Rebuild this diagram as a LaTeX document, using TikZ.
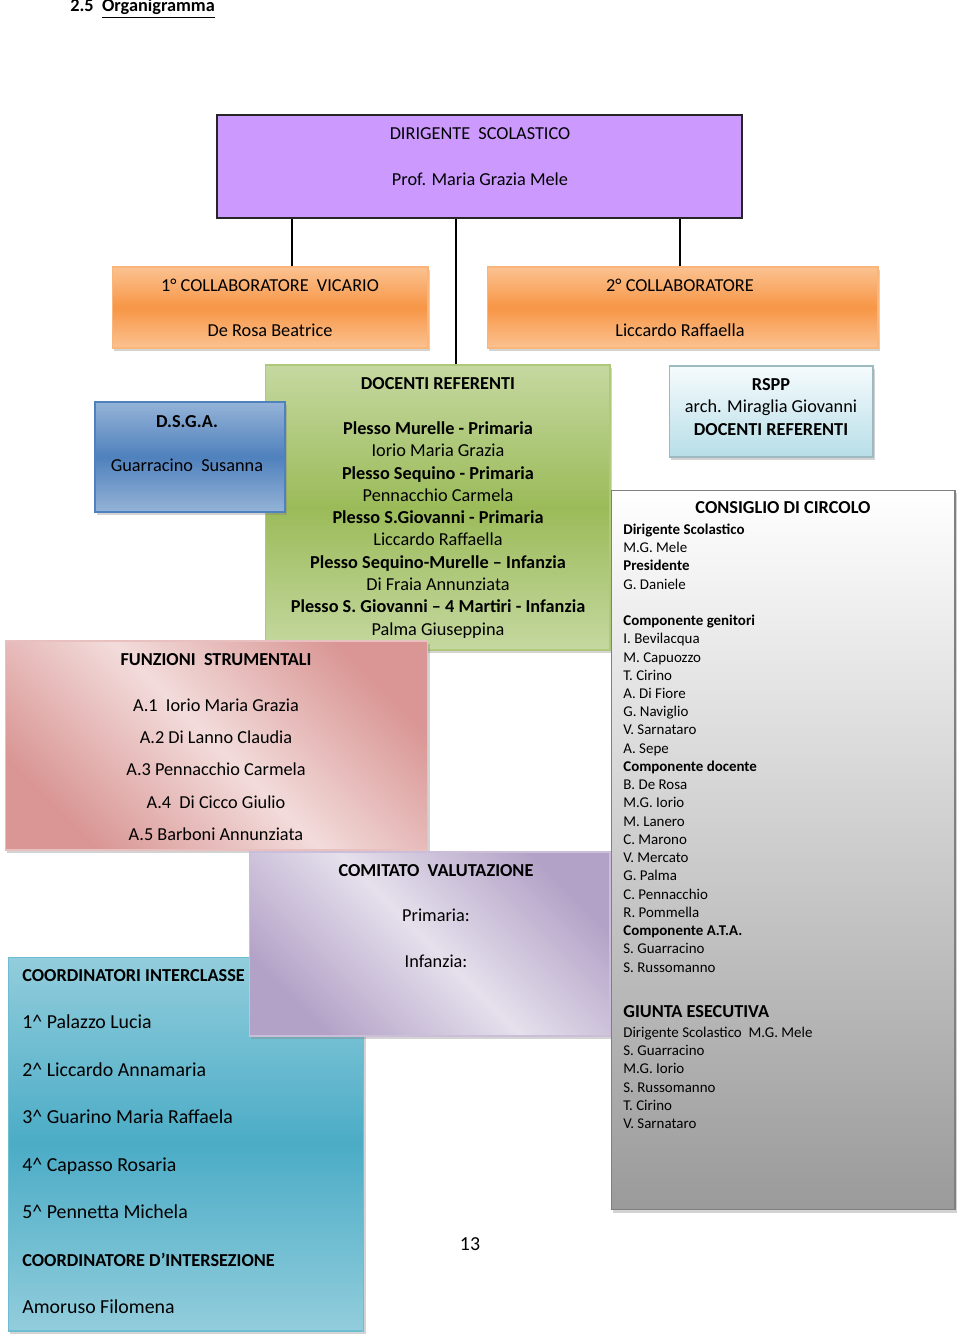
\documentclass[tikz,border=0pt]{standalone}
\usepackage{fontspec}
\setmainfont{Carlito}
\usetikzlibrary{shadows}

\definecolor{dirviolet}{HTML}{CC99FF}
\definecolor{orlight}{HTML}{FBC291}
\definecolor{ordark}{HTML}{F79646}
\definecolor{grlight}{HTML}{C5D8A0}
\definecolor{grdark}{HTML}{9BBB59}
\definecolor{bllight}{HTML}{95B3D7}
\definecolor{bldark}{HTML}{4F81BD}
\definecolor{skylight}{HTML}{F6FBFD}
\definecolor{skydark}{HTML}{B7DEE8}
\definecolor{greydark}{HTML}{9A9A9A}
\definecolor{pinklight}{HTML}{F2DCDB}
\definecolor{pinkdark}{HTML}{D99694}
\definecolor{lilaclight}{HTML}{E5E0EC}
\definecolor{lilacdark}{HTML}{B3A2C7}
\definecolor{teallight}{HTML}{92CDDC}
\definecolor{tealdark}{HTML}{4BACC6}

\newcommand{\hd}[1]{{\bfseries #1}}

\tikzset{
  box/.style={rectangle, inner sep=0pt, line width=.6pt,
    drop shadow={shadow xshift=1.2pt, shadow yshift=-1.5pt, opacity=.35}},
  vgrad/.style 2 args={top color=#1, bottom color=#1, middle color=#2},
  dgrad/.style 2 args={top color=#2, bottom color=#2, middle color=#1, shading angle=-45},
  txt/.style={inner sep=0pt, align=center, font=\fontsize{10.4}{12.7}\selectfont},
}

\begin{document}
\begin{tikzpicture}[x=0.02cm, y=-0.02cm]
  \useasboundingbox (0,0) rectangle (960,1337);

  \node[anchor=base west, inner sep=0pt, font=\fontsize{10.4}{12}\selectfont\bfseries] (title) at (70,12) {2.5\ \ \underline{Organigramma}};

  \node[rectangle, inner sep=0pt, fill=dirviolet, draw=black!85, line width=.8pt,
        minimum width=10.5cm, minimum height=2.06cm] (dir) at (479.5,166.5) {};
  \node[txt, font=\fontsize{10.4}{26.1}\selectfont] (dirtxt) at (480,156.5)
    {DIRIGENTE\ \ SCOLASTICO\\Prof. Maria Grazia Mele};

  \node[box, vgrad={orlight}{ordark}, draw=orlight!70!ordark,
        minimum width=6.32cm, minimum height=1.62cm] (col1) at (270,307.5) {};
  \node[txt, font=\fontsize{10.4}{25.5}\selectfont] (col1txt) at (270,307.5)
    {1° COLLABORATORE\ \ VICARIO\\De Rosa Beatrice};

  \node[box, vgrad={orlight}{ordark}, draw=orlight!70!ordark,
        minimum width=7.82cm, minimum height=1.62cm] (col2) at (682.5,307.5) {};
  \node[txt, font=\fontsize{10.4}{25.5}\selectfont] (col2txt) at (680,307.5)
    {2° COLLABORATORE\\Liccardo Raffaella};

  \node[box, vgrad={grlight}{grdark}, draw=grdark!80!white,
        minimum width=6.9cm, minimum height=5.7cm] (doc) at (437.5,507.5) {};
  \node[txt] (doctxt) at (438,508)
    {\hd{DOCENTI REFERENTI}\\[12.7pt]
     \hd{Plesso Murelle - Primaria}\\
     Iorio Maria Grazia\\
     \hd{Plesso Sequino - Primaria}\\
     Pennacchio Carmela\\
     \hd{Plesso S.Giovanni - Primaria}\\
     Liccardo Raffaella\\
     \hd{Plesso Sequino-Murelle – Infanzia}\\
     Di Fraia Annunziata\\
     \hd{Plesso S. Giovanni – 4 Martiri - Infanzia}\\
     Palma Giuseppina};

  \coordinate (col1tap) at ([xshift=.44cm]col1.north);
  \coordinate (doctap) at ([xshift=.37cm]doc.north);
  \coordinate (col2tap) at ([xshift=-.05cm]col2.north);
  \draw[line width=.7pt] (col1tap) -- (col1tap |- dir.south);
  \draw[line width=.7pt] (doctap) -- (doctap |- dir.south);
  \draw[line width=.7pt] (col2tap) -- (col2tap |- dir.south);

  \node[box, vgrad={bllight}{bldark}, draw=bldark,
        minimum width=3.8cm, minimum height=2.2cm] (dsga) at (190,457) {};
  \node[txt, font=\fontsize{10.4}{25.5}\selectfont] (dsgatxt) at (187,443.5)
    {\hd{D.S.G.A.}\\Guarracino\ \ Susanna};

  \node[box, top color=skylight, bottom color=skydark, draw=skydark!80!black!90,
        minimum width=4.08cm, minimum height=1.82cm] (rspp) at (771,411.5) {};
  \node[txt] (rspptxt) at (771,407)
    {\hd{RSPP}\\arch. Miraglia Giovanni\\\hd{DOCENTI REFERENTI}};

  \node[box, top color=white, bottom color=greydark, draw=black!50,
        minimum width=6.88cm, minimum height=14.4cm] (cons) at (783,850) {};
  \node[txt, font=\fontsize{10.4}{12}\selectfont\bfseries] (constitle) at (783,508)
    {CONSIGLIO DI CIRCOLO};
  \node[txt, align=left, anchor=north west, font=\fontsize{8.5}{10.38}\selectfont] (conslist) at (623,523.5)
    {\hd{Dirigente Scolastico}\\
     M.G. Mele\\
     \hd{Presidente}\\
     G. Daniele\\[10.38pt]
     \hd{Componente genitori}\\
     I. Bevilacqua\\
     M. Capuozzo\\
     T. Cirino\\
     A. Di Fiore\\
     G. Naviglio\\
     V. Sarnataro\\
     A. Sepe\\
     \hd{Componente docente}\\
     B. De Rosa\\
     M.G. Iorio\\
     M. Lanero\\
     C. Marono\\
     V. Mercato\\
     G. Palma\\
     C. Pennacchio\\
     R. Pommella\\
     \hd{Componente A.T.A.}\\
     S. Guarracino\\
     S. Russomanno};
  \node[txt, align=left, anchor=north west, font=\fontsize{8.5}{10.38}\selectfont] (giunta) at (623,1005)
    {{\bfseries\fontsize{10.4}{10.38}\selectfont GIUNTA ESECUTIVA}\\[1pt]
     Dirigente Scolastico\ \ M.G. Mele\\
     S. Guarracino\\
     M.G. Iorio\\
     S. Russomanno\\
     T. Cirino\\
     V. Sarnataro};

  \node[box, dgrad={pinklight}{pinkdark}, draw=pinkdark!60!white,
        minimum width=8.46cm, minimum height=4.18cm] (funz) at (216.5,745.5) {};
  \node[txt, font=\fontsize{10.4}{18.3}\selectfont] (funztxt) at (216,747)
    {\hd{FUNZIONI\ \ STRUMENTALI}\\[7.8pt]
     A.1\ \ Iorio Maria Grazia\\
     A.2 Di Lanno Claudia\\
     A.3 Pennacchio Carmela\\
     A.4\ \ Di Cicco Giulio\\
     A.5 Barboni Annunziata};

  \node[box, vgrad={teallight}{tealdark}, draw=tealdark!80!white,
        minimum width=7.12cm, minimum height=7.48cm] (coord) at (186,1144) {};
  \node[txt, align=left, anchor=west, font=\fontsize{11.3}{27}\selectfont] (coordtxt) at (22,1141.5)
    {{\bfseries\fontsize{10.4}{27}\selectfont COORDINATORI INTERCLASSE}\\
     1\textasciicircum{} Palazzo Lucia\\
     2\textasciicircum{} Liccardo Annamaria\\
     3\textasciicircum{} Guarino Maria Raffaela\\
     4\textasciicircum{} Capasso Rosaria\\
     5\textasciicircum{} Pennetta Michela\\
     {\bfseries\fontsize{10.4}{27}\selectfont COORDINATORE D’INTERSEZIONE}\\
     Amoruso Filomena};

  \node[box, dgrad={lilaclight}{lilacdark}, draw=lilacdark!70!white,
        minimum width=7.22cm, minimum height=3.68cm] (comi) at (429.5,944) {};
  \node[txt, font=\fontsize{10.4}{25.8}\selectfont] (comitxt) at (436,916)
    {\hd{COMITATO\ \ VALUTAZIONE}\\Primaria:\\Infanzia:};

  \node[txt, font=\fontsize{11.3}{13}\selectfont] (pagenum) at (470,1244) {13};

\end{tikzpicture}
\end{document}
